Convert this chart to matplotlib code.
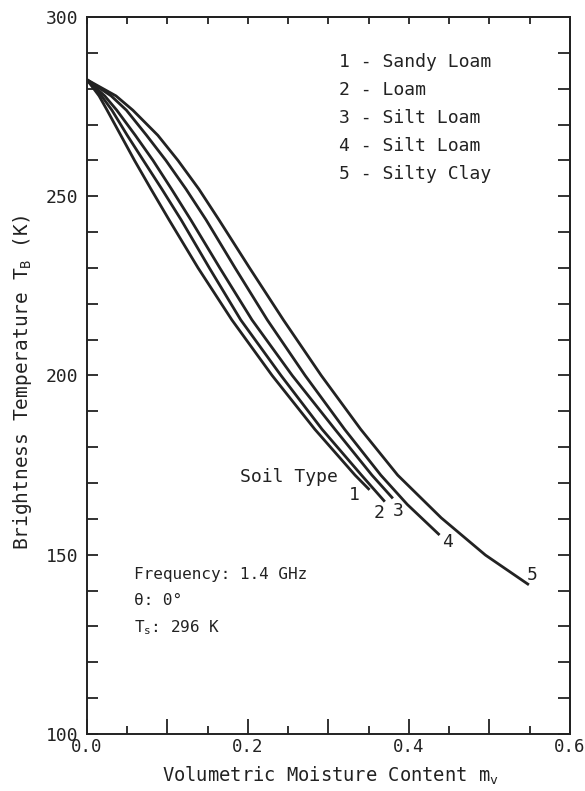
import matplotlib
matplotlib.use("Agg")
import matplotlib.pyplot as plt
from matplotlib.ticker import MultipleLocator

# Brightness temperature vs. volumetric moisture for five soil types (1.4 GHz, nadir)
soil_names = ["Sandy Loam", "Loam", "Silt Loam", "Silt Loam", "Silty Clay"]

moisture_1 = [0.000, 0.015, 0.025, 0.042, 0.059, 0.0795, 0.102, 0.138, 0.180, 0.230, 0.283, 0.333, 0.351]
temp_1     = [282.5, 278.0, 274.0, 267.0, 260.0, 252.0, 243.4, 230.0, 215.5, 200.0, 185.0, 172.2, 168.1]

moisture_2 = [0.000, 0.018, 0.031, 0.050, 0.070, 0.093, 0.117, 0.152, 0.191, 0.241, 0.292, 0.341, 0.370]
temp_2     = [282.5, 278.0, 274.0, 267.0, 260.0, 252.0, 243.4, 230.0, 215.5, 200.0, 185.0, 172.2, 164.8]

moisture_3 = [0.000, 0.022, 0.037, 0.060, 0.082, 0.105, 0.129, 0.165, 0.205, 0.255, 0.308, 0.354, 0.380]
temp_3     = [282.5, 278.0, 274.0, 267.0, 260.0, 252.0, 243.4, 230.0, 215.5, 200.0, 185.0, 172.2, 165.7]

moisture_4 = [0.000, 0.030, 0.049, 0.074, 0.098, 0.123, 0.148, 0.184, 0.224, 0.271, 0.320, 0.365, 0.398, 0.438]
temp_4     = [282.5, 278.0, 274.0, 267.0, 260.0, 252.0, 243.4, 230.0, 215.5, 200.0, 185.0, 172.2, 164.0, 155.5]

moisture_5 = [0.000, 0.036, 0.057, 0.088, 0.113, 0.139, 0.164, 0.202, 0.244, 0.291, 0.340, 0.386, 0.440, 0.495, 0.549]
temp_5     = [282.5, 278.0, 274.0, 267.0, 260.0, 252.0, 243.4, 230.0, 215.5, 200.0, 185.0, 172.2, 160.3, 149.9, 141.6]

curves = [(moisture_1, temp_1), (moisture_2, temp_2), (moisture_3, temp_3),
          (moisture_4, temp_4), (moisture_5, temp_5)]

x_ticks = [0.0, 0.1, 0.2, 0.3, 0.4, 0.5, 0.6]
x_tick_labels = ["0.0", "", "0.2", "", "0.4", "", "0.6"]
y_ticks = [100, 150, 200, 250, 300]

# offsets (points) of the curve-number labels from each curve's end
label_offsets = [(-11, -4), (-4, -8), (4, -9), (6, -5), (2, 7)]

plt.rcParams["font.family"] = ["DejaVu Sans Mono", "DejaVu Sans"]
ink = "#222222"

fig = plt.figure(figsize=(5.85, 7.91), dpi=100)
ax = fig.add_axes([0.1487, 0.0721, 0.8256, 0.9064])

for i, (m, t) in enumerate(curves):
    ax.plot(m, t, color=ink, lw=2.0, solid_capstyle="butt", solid_joinstyle="round")
    ax.annotate(str(i + 1), xy=(m[-1], t[-1]), xytext=label_offsets[i],
                textcoords="offset points", ha="center", va="center",
                fontsize=13, color=ink)

ax.set_xlim(0, 0.6)
ax.set_ylim(100, 300)

# bottom: long ticks every 0.1, short every 0.05; left: ticks every 10
ax.set_xticks(x_ticks)
ax.set_xticklabels(x_tick_labels)
ax.xaxis.set_minor_locator(MultipleLocator(0.05))
ax.set_yticks(y_ticks)
ax.yaxis.set_minor_locator(MultipleLocator(10))

ax.tick_params(axis="both", which="both", direction="in", color=ink,
               labelcolor=ink, width=1.3, top=False, right=False)
ax.tick_params(axis="x", which="major", length=11, pad=3, labelsize=12.5)
ax.tick_params(axis="x", which="minor", length=6)
ax.tick_params(axis="y", which="both", length=8, pad=6, labelsize=13)

# top: uniform short ticks; right: ticks every 10
top = ax.secondary_xaxis("top")
top.xaxis.set_major_locator(MultipleLocator(0.05))
top.tick_params(direction="in", length=5, width=1.3, color=ink, labeltop=False)
right = ax.secondary_yaxis("right")
right.yaxis.set_major_locator(MultipleLocator(10))
right.tick_params(direction="in", length=9, width=1.3, color=ink, labelright=False)
for a in (ax, top, right):
    for s in a.spines.values():
        s.set_color(ink)
        s.set_linewidth(1.4)

ax.set_xlabel(r"Volumetric Moisture Content $\mathregular{m_v}$", fontsize=13.5, color=ink)
ax.set_ylabel(r"Brightness Temperature $\mathregular{T_B}$ (K)", fontsize=14, color=ink)
ax.xaxis.set_label_coords(0.504, -0.043)
ax.yaxis.set_label_coords(-0.110, 0.49)

# soil-type key
for i, name in enumerate(soil_names):
    ax.text(0.3136, 287.5 - 7.8 * i, f"{i + 1} - {name}", fontsize=13,
            color=ink, ha="left", va="center")

ax.text(0.2506, 171.7, "Soil Type", fontsize=13, color=ink, ha="center", va="center")

ax.text(0.059, 144.4, "Frequency: 1.4 GHz", fontsize=11.5, color=ink, va="center")
ax.text(0.059, 137.1, "θ: 0°", fontsize=11.5, color=ink, va="center")
ax.text(0.059, 129.6, r"$\mathregular{T_s}$: 296 K", fontsize=11.5, color=ink, va="center")

fig.savefig("out.png", dpi=100)
